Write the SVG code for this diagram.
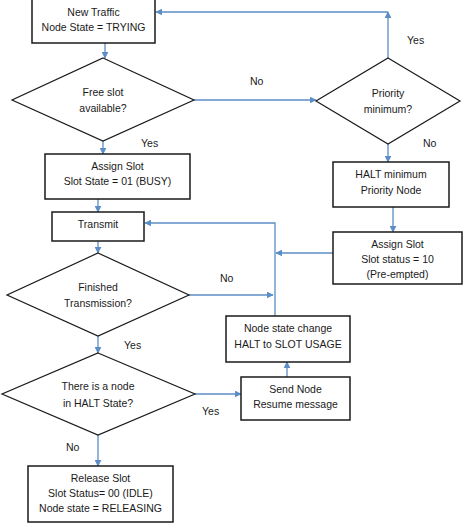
<svg xmlns="http://www.w3.org/2000/svg" width="474" height="530" viewBox="0 0 474 530">
<style>
.box{fill:#fff;stroke:#1a1a1a;stroke-width:1.5}
.dia{fill:#fff;stroke:#1a1a1a;stroke-width:1.2}
.t{font-family:"Liberation Sans",Arial,sans-serif;font-size:10.5px;fill:#1a1a1a;text-anchor:middle}
.l{font-family:"Liberation Sans",Arial,sans-serif;font-size:10.5px;fill:#1a1a1a}
.c{fill:none;stroke:#5b8ec6;stroke-width:1.3}
</style>
<defs>
<marker id="a" viewBox="0 0 10 10" refX="9" refY="5" markerWidth="7" markerHeight="7" orient="auto" markerUnits="userSpaceOnUse">
<path d="M0,0 L10,5 L0,10 z" fill="#5b8ec6"/>
</marker>
</defs>
<rect width="474" height="530" fill="#fff"/>
<g id="connectors">
<path class="c" d="M105,43 V58" marker-end="url(#a)"/>
<path class="c" d="M103,141 V154" marker-end="url(#a)"/>
<path class="c" d="M194,100 H316" marker-end="url(#a)"/>
<path class="c" d="M388,58 V12" marker-end="url(#a)"/>
<path class="c" d="M388,12 H156" marker-end="url(#a)"/>
<path class="c" d="M388,144 V162" marker-end="url(#a)"/>
<path class="c" d="M393,207 V232" marker-end="url(#a)"/>
<path class="c" d="M333,253 H276" marker-end="url(#a)"/>
<path class="c" d="M98,199 V212" marker-end="url(#a)"/>
<path class="c" d="M275,316 V223 H145" marker-end="url(#a)"/>
<path class="c" d="M98,241 V253" marker-end="url(#a)"/>
<path class="c" d="M189,295 H273" marker-end="url(#a)"/>
<path class="c" d="M98,336 V353" marker-end="url(#a)"/>
<path class="c" d="M195,394 H241" marker-end="url(#a)"/>
<path class="c" d="M287,377 V362" marker-end="url(#a)"/>
<path class="c" d="M98,435 V466" marker-end="url(#a)"/>
<text class="l" x="141" y="147">Yes</text>
<text class="l" x="250" y="85">No</text>
<text class="l" x="407" y="44">Yes</text>
<text class="l" x="423" y="147">No</text>
<text class="l" x="220" y="282">No</text>
<text class="l" x="124" y="349">Yes</text>
<text class="l" x="202" y="415">Yes</text>
<text class="l" x="66" y="451">No</text>
</g>
<g id="newTraffic">
<rect class="box" x="32" y="-1" width="123" height="44"/>
<text class="t" x="93.5" y="16">New Traffic</text>
<text class="t" x="93.5" y="31">Node State = TRYING</text>
</g>
<g id="freeSlot">
<polygon class="dia" points="103,58 194,100 103,141 12,100"/>
<text class="t" x="103" y="96">Free slot</text>
<text class="t" x="103" y="112">available?</text>
</g>
<g id="priority">
<polygon class="dia" points="388,58 460,101 388,144 316,101"/>
<text class="t" x="388" y="97">Priority</text>
<text class="t" x="388" y="113">minimum?</text>
</g>
<g id="assignSlot">
<rect class="box" x="45" y="154" width="145" height="45"/>
<text class="t" x="117.5" y="170">Assign Slot</text>
<text class="t" x="117.5" y="185">Slot State = 01 (BUSY)</text>
</g>
<g id="haltMin">
<rect class="box" x="333" y="162" width="116" height="45"/>
<text class="t" x="391" y="178">HALT minimum</text>
<text class="t" x="391" y="194">Priority Node</text>
</g>
<g id="assignPre">
<rect class="box" x="333" y="232" width="129" height="52"/>
<text class="t" x="397.5" y="248">Assign Slot</text>
<text class="t" x="397.5" y="263">Slot status = 10</text>
<text class="t" x="397.5" y="278">(Pre-empted)</text>
</g>
<g id="transmit">
<rect class="box" x="52" y="212" width="92" height="29"/>
<text class="t" x="98" y="228">Transmit</text>
</g>
<g id="finished">
<polygon class="dia" points="98,253 189,295 98,336 7,295"/>
<text class="t" x="98" y="291">Finished</text>
<text class="t" x="98" y="307">Transmission?</text>
</g>
<g id="nodeChange">
<rect class="box" x="226" y="316" width="124" height="46"/>
<text class="t" x="288" y="332">Node state change</text>
<text class="t" x="288" y="348">HALT to SLOT USAGE</text>
</g>
<g id="haltState">
<polygon class="dia" points="98,353 195,394 98,435 2,394"/>
<text class="t" x="98" y="390">There is a node</text>
<text class="t" x="98" y="407">in HALT State?</text>
</g>
<g id="sendNode">
<rect class="box" x="241" y="377" width="109" height="43"/>
<text class="t" x="295.5" y="393">Send Node</text>
<text class="t" x="295.5" y="408">Resume message</text>
</g>
<g id="release">
<rect class="box" x="28" y="466" width="145" height="56"/>
<text class="t" x="100.5" y="482">Release Slot</text>
<text class="t" x="100.5" y="497">Slot Status= 00 (IDLE)</text>
<text class="t" x="100.5" y="512">Node state = RELEASING</text>
</g>
</svg>
